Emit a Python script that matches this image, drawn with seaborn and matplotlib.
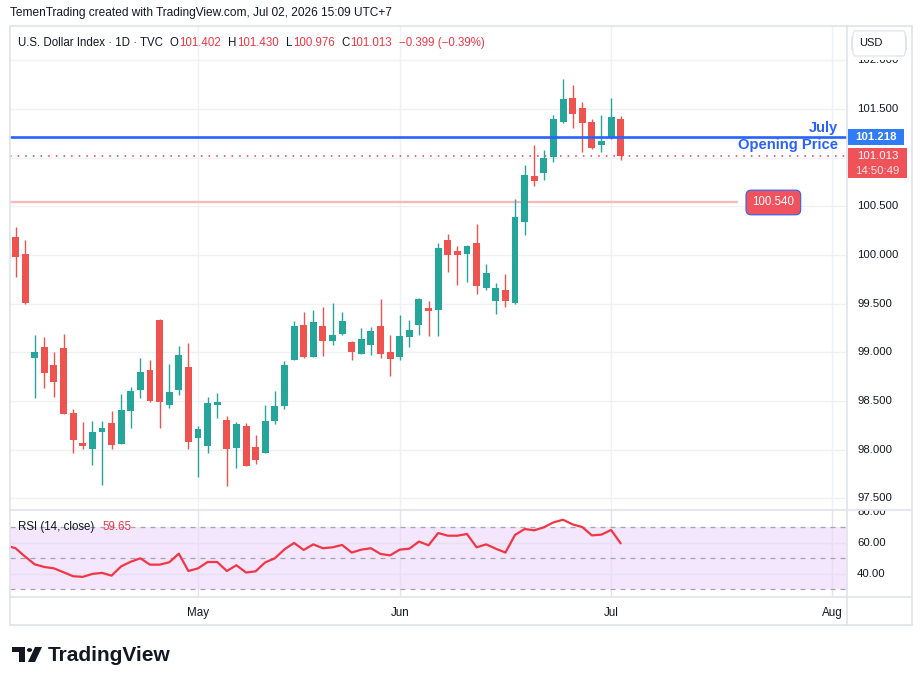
import numpy as np
import pandas as pd
import seaborn as sns
import matplotlib
matplotlib.use('Agg')
import matplotlib.pyplot as plt
from matplotlib.patches import Rectangle, Polygon, Circle, FancyBboxPatch
from matplotlib.lines import Line2D
from matplotlib.transforms import blended_transform_factory

# daily DXY candles, Apr 6 - Jul 2 2026 (weekdays)
dates = pd.bdate_range('2026-04-06', '2026-07-02')
opens = [100.185, 100.01, 98.945, 99.055, 98.87, 99.045, 98.38, 98.07, 98.01, 98.185,
         98.27, 98.06, 98.40, 98.61, 98.82, 99.33, 98.46, 98.61, 98.85, 98.12,
         98.04, 98.46, 98.30, 98.02, 98.24, 98.03, 97.96, 98.295, 98.45, 98.92,
         99.28, 98.95, 99.27, 99.12, 99.19, 99.11, 98.98, 99.07, 99.27, 99.00,
         98.95, 99.16, 99.28, 99.46, 99.43, 100.15, 100.04, 100.01, 100.12, 99.665,
         99.53, 99.64, 99.51, 100.34, 100.815, 100.84, 101.01, 101.37, 101.61, 101.51,
         101.37, 101.13, 101.218, 101.402]
highs = [100.29, 100.15, 99.18, 99.16, 99.00, 99.19, 98.42, 98.28, 98.295, 98.295,
         98.40, 98.57, 98.64, 98.94, 98.92, 99.34, 98.88, 99.06, 99.10, 98.24,
         98.54, 98.58, 98.35, 98.28, 98.27, 98.15, 98.46, 98.60, 98.91, 99.32,
         99.41, 99.43, 99.47, 99.51, 99.41, 99.12, 99.25, 99.26, 99.545, 99.18,
         99.38, 99.33, 99.555, 99.53, 100.12, 100.22, 100.09, 100.10, 100.32, 99.91,
         99.715, 99.80, 100.58, 100.93, 101.13, 101.08, 101.44, 101.81, 101.75, 101.575,
         101.40, 101.44, 101.61, 101.430]
lows = [99.77, 99.50, 98.53, 98.63, 98.545, 98.37, 97.97, 98.01, 97.84, 97.64,
        98.01, 98.06, 98.22, 98.53, 98.49, 98.22, 98.43, 98.565, 98.01, 97.72,
        97.97, 98.32, 97.63, 97.81, 97.83, 97.85, 97.96, 98.26, 98.42, 98.92,
        98.94, 98.95, 98.96, 99.07, 99.18, 98.92, 98.98, 98.97, 98.94, 98.76,
        98.92, 99.055, 99.18, 99.17, 99.17, 99.83, 99.69, 99.72, 99.60, 99.64,
        99.39, 99.47, 99.50, 100.21, 100.71, 100.77, 100.96, 101.36, 101.31, 101.055,
        101.085, 101.055, 101.195, 100.976]
closes = [99.98, 99.51, 99.00, 98.79, 98.69, 98.37, 98.10, 98.04, 98.18, 98.22,
          98.05, 98.41, 98.60, 98.80, 98.50, 98.49, 98.59, 98.97, 98.08, 98.21,
          98.48, 98.49, 98.01, 98.26, 97.83, 97.89, 98.29, 98.445, 98.87, 99.27,
          98.95, 99.31, 99.12, 99.18, 99.32, 99.00, 99.14, 99.22, 98.98, 98.93,
          99.17, 99.23, 99.545, 99.42, 100.075, 100.00, 100.00, 100.09, 99.68, 99.81,
          99.665, 99.53, 100.39, 100.825, 100.76, 101.00, 101.40, 101.60, 101.445, 101.36,
          101.105, 101.175, 101.42, 101.013]

# RSI(14) values, one extra point for the day before the first visible candle
rsi_prev = 58.3
rsi = [56.5, 51.1, 46.1, 44.4, 43.5, 41.0, 38.4, 38.0, 39.9, 40.6,
       38.8, 44.8, 47.8, 50.0, 45.9, 45.9, 47.4, 53.0, 41.8, 43.5,
       47.6, 47.6, 41.8, 45.5, 40.8, 41.6, 47.4, 50.0, 55.8, 59.9,
       55.4, 59.0, 56.5, 57.1, 58.6, 53.7, 55.6, 56.5, 52.8, 51.9,
       55.6, 56.2, 60.8, 58.4, 66.3, 64.6, 64.6, 65.7, 57.1, 59.0,
       56.2, 53.7, 65.1, 68.9, 68.1, 70.0, 73.2, 74.9, 71.9, 70.2,
       64.8, 65.3, 68.3, 59.65]

month_labels = ['May', 'Jun', 'Jul', 'Aug']
month_starts = ['2026-05-01', '2026-06-01', '2026-07-01', '2026-08-03']
price_ticks = [97.5, 98.0, 98.5, 99.0, 99.5, 100.0, 100.5, 101.0, 101.5, 102.0]
rsi_ticks = [40, 60, 80]
july_open = 101.218
last_close = 101.013
level_price = 100.540
ohlc_header = [('O', '101.402'), ('H', '101.430'), ('L', '100.976'), ('C', '101.013')]
change_text = '−0.399 (−0.39%)'

GREEN = '#26a69a'
RED = '#ef5350'
BLUE = '#2962ff'
TXT = '#131722'
GRID = '#f0f1f4'
BORDER = '#e0e3eb'

sns.set_theme(style='white')
plt.rcParams['font.family'] = ['Liberation Sans', 'DejaVu Sans']

W, H = 923, 685
fig = plt.figure(figsize=(W / 100, H / 100), dpi=100)
fig.patch.set_facecolor('white')


def box(x0, y0, x1, y1):
    return [x0 / W, 1 - y1 / H, (x1 - x0) / W, (y1 - y0) / H]


ax = fig.add_axes(box(10, 26, 847, 510))
rax = fig.add_axes(box(10, 510, 847, 597), sharex=ax)
pax = fig.add_axes(box(847, 26, 912, 510), sharey=ax)
prax = fig.add_axes(box(847, 510, 912, 597), sharey=rax)

all_days = pd.bdate_range('2026-04-06', '2026-08-31')
month_idx = [all_days.get_loc(pd.Timestamp(d)) for d in month_starts]

o = np.array(opens)
c = np.array(closes)
idx = np.arange(len(dates))
cols = np.where(c >= o, GREEN, RED)

# candles
ax.vlines(idx, lows, highs, colors=cols, lw=1.0, zorder=3)
ax.bar(idx, np.maximum(np.abs(c - o), 0.012), bottom=np.minimum(o, c), width=0.72,
       color=cols, linewidth=0, zorder=4)

ax.set_xlim(-0.573, 86.56)
ax.set_ylim(97.379, 102.354)
ax.set_yticks(price_ticks)
ax.set_xticks(month_idx)
ax.grid(True, color=GRID, lw=1.0)
ax.tick_params(length=0, labelbottom=False, labelleft=False)

bt = blended_transform_factory(ax.transAxes, ax.transData)
ax.axhline(july_open, color=BLUE, lw=1.9, zorder=5)
ax.axhline(last_close, color='#f23645', lw=1.1, ls=(0, (1, 4)), zorder=2)
ax.axhline(level_price, xmin=0, xmax=0.8686, color='#f8b9bd', lw=1.7, zorder=2)
ax.text(0.989, july_open + 0.02, 'July', transform=bt, ha='right', va='bottom',
        color=BLUE, fontsize=10.6, fontweight='bold', zorder=6)
ax.text(0.989, july_open - 0.02, 'Opening Price', transform=bt, ha='right', va='top',
        color=BLUE, fontsize=10.6, fontweight='bold', zorder=6)
ax.text(0.912, level_price, f'{level_price:.3f}', transform=bt, ha='center', va='center',
        color='white', fontsize=8.3, zorder=6,
        bbox=dict(boxstyle='round,pad=0.55,rounding_size=0.45', fc='#f0525e', ec=BLUE, lw=0.8))

# rsi pane
rax.axhspan(30, 70, color='#f3e6fd', lw=0, zorder=0)
for v in (70, 50, 30):
    rax.axhline(v, color='#a3a6af', lw=0.9, ls=(0, (4, 4)), zorder=1)
df_rsi = pd.DataFrame({'i': np.arange(-1, len(rsi)), 'rsi': [rsi_prev] + rsi})
sns.lineplot(data=df_rsi, x='i', y='rsi', ax=rax, color='#f23645', lw=1.6, zorder=3)
rax.set_ylim(25.0, 81.2)
rax.set_yticks([40, 60])
rax.grid(True, color='#e6e0f0', lw=1.0)
rax.set_xlabel('')
rax.set_ylabel('')
rax.set_xticks(month_idx)
rax.set_xticklabels(month_labels)
rax.tick_params(axis='x', length=0, pad=7, labelsize=8.4, labelcolor=TXT)
rax.tick_params(axis='y', length=0, labelleft=False)
rbt = blended_transform_factory(rax.transAxes, rax.transData)
rax.text(0.0095, 70, 'RSI (14, close)', transform=rbt, ha='left', va='center',
         fontsize=8.3, color=TXT, zorder=5)
rax.text(0.110, 70, f'{rsi[-1]:.2f}', transform=rbt, ha='left', va='center',
         fontsize=8.3, color='#f23645', zorder=5)

for a in (ax, rax, pax, prax):
    for s in a.spines.values():
        s.set_visible(False)
    a.set_facecolor('none')

# price scales
for a in (pax, prax):
    a.set_xlim(0, 1)
    a.tick_params(left=False, bottom=False, labelleft=False, labelbottom=False)
    a.grid(False)
for p in price_ticks:
    t = pax.text(0.155, p, f'{p:.3f}', ha='left', va='center', fontsize=8.2, color=TXT)
    t.set_clip_on(True)
    t.set_clip_box(pax.bbox)
for p in rsi_ticks:
    t = prax.text(0.155, p, f'{p:.2f}', ha='left', va='center', fontsize=8.2, color=TXT)
    t.set_clip_on(True)
    t.set_clip_box(prax.bbox)

pt = blended_transform_factory(pax.transAxes, pax.transData)
pax.add_patch(Rectangle((0.015, july_open - 0.085), 0.862, 0.165, transform=pt,
                        fc='#2f7cf6', ec='none', zorder=5))
pax.text(0.446, july_open, f'{july_open:.3f}', transform=pt, ha='center', va='center',
         color='white', fontsize=8.2, fontweight='bold', zorder=6)
pax.add_patch(Rectangle((0.015, 100.79), 0.908, 0.31, transform=pt,
                        fc='#f0525a', ec='none', zorder=5))
pax.text(0.47, last_close, f'{last_close:.3f}', transform=pt, ha='center', va='center',
         color='white', fontsize=8.2, zorder=6)
pax.text(0.47, 100.865, '14:50:49', transform=pt, ha='center', va='center',
         color='#fde3e4', fontsize=8.2, zorder=6)
# white band under the currency button hides the top of the 102.000 label
pax.add_patch(Rectangle((0.03, 0.93), 0.94, 0.065, transform=pax.transAxes,
                        fc='white', ec='none', zorder=6.5))
pax.add_patch(FancyBboxPatch((0.08, 0.938), 0.83, 0.052, transform=pax.transAxes,
                             boxstyle='round,pad=0,rounding_size=0.04', fc='white',
                             ec='#e0e3eb', lw=0.9, zorder=7, clip_on=False))
pax.text(0.36, 0.965, 'USD', transform=pax.transAxes, ha='center', va='center',
         fontsize=8.0, color=TXT, zorder=8)


# frame and separators (figure pixels)
def fl(x0, y0, x1, y1, lw=1.2, color=BORDER):
    fig.add_artist(Line2D([x0 / W, x1 / W], [1 - y0 / H, 1 - y1 / H], color=color, lw=lw))


fl(10, 26, 912, 26)
fl(10, 625, 912, 625)
fl(10, 26, 10, 625)
fl(912, 26, 912, 625)
fl(847, 26, 847, 625)
fl(10, 510, 912, 510, color='#e3e0ee')
fl(10, 597, 912, 597)

# header texts
fig.text(10 / W, 1 - 13 / H, 'TemenTrading created with TradingView.com, Jul 02, 2026 15:09 UTC+7',
         ha='left', va='center', fontsize=8.6, color=TXT)

r = fig.canvas.get_renderer()
pieces = [('U.S. Dollar Index · 1D · TVC', TXT, 7)]
for letter, val in ohlc_header:
    pieces += [(letter, TXT, 0.5), (val, '#f23645', 7)]
pieces.append((change_text, '#f23645', 0))
xpos = 18
for s, col, gap in pieces:
    t = fig.text(xpos / W, 1 - 43 / H, s, ha='left', va='center', fontsize=8.3, color=col)
    xpos += t.get_window_extent(r).width + gap

# TradingView logo
def px(x, y):
    return (x / W, 1 - y / H)


fig.add_artist(Polygon([px(12, 647), px(25, 647), px(25, 662), px(19, 662), px(19, 652), px(12, 652)],
                       closed=True, transform=fig.transFigure, fc='#131722', ec='none'))
fig.add_artist(Circle(px(29.5, 650), 2.6 / W, transform=fig.transFigure, fc='#131722', ec='none'))
fig.add_artist(Polygon([px(35, 647), px(42, 647), px(35, 662), px(28, 662)],
                       closed=True, transform=fig.transFigure, fc='#131722', ec='none'))
fig.text(48 / W, 1 - 655.5 / H, 'TradingView', ha='left', va='center', fontsize=15,
         fontweight='bold', color='#131722')

fig.savefig('out.png', dpi=100)
